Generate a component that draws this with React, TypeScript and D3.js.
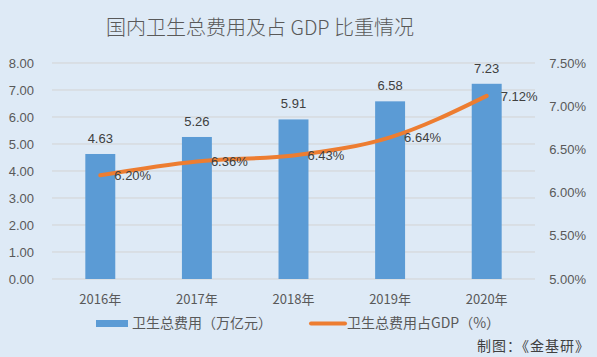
import React from "react";
import * as d3 from "d3";

const years = ["2016年", "2017年", "2018年", "2019年", "2020年"];
const spending = [4.63, 5.26, 5.91, 6.58, 7.23];
const gdpShare = [6.2, 6.36, 6.43, 6.64, 7.12];
const leftTicks = [0, 1, 2, 3, 4, 5, 6, 7, 8];
const rightTicks = [5.0, 5.5, 6.0, 6.5, 7.0, 7.5];

const W = 597, H = 357;
const M = { left: 52, right: 535, top: 63, bottom: 279 };
const NUM = "'Liberation Sans', Arial, sans-serif";
const CJK = "'Noto Sans CJK SC', sans-serif";

export default function App() {
  const x = d3.scaleBand().domain(years).range([M.left, M.right]).paddingInner(0.69).paddingOuter(0.345);
  const yL = d3.scaleLinear().domain([0, 8]).range([M.bottom, M.top]);
  const yR = d3.scaleLinear().domain([5, 7.5]).range([M.bottom, M.top]);
  const cx = (d: string) => (x(d) as number) + x.bandwidth() / 2;
  const line = d3.line<number>().x((_, i) => cx(years[i])).y((d) => yR(d)).curve(d3.curveMonotoneX);

  return (
    <svg width={W} height={H} style={{ position: "absolute", left: 0, top: 0 }}>
      <rect x={0} y={0} width={W} height={H} fill="#DEEAF6" />
      <text x={260} y={35} textAnchor="middle" fontFamily={CJK} fontSize={20} fontWeight={300} fill="#595959">国内卫生总费用及占 GDP 比重情况</text>
      {leftTicks.map((t) => (
        <g key={t}>
          <line x1={M.left} x2={M.right} y1={yL(t)} y2={yL(t)} stroke="#D3D3D3" strokeWidth={1} />
          <text x={34} y={yL(t) + 4.5} textAnchor="end" fontFamily={NUM} fontSize={13} fill="#595959">{t.toFixed(2)}</text>
        </g>
      ))}
      {rightTicks.map((t) => (
        <text key={t} x={586} y={yR(t) + 4.5} textAnchor="end" fontFamily={NUM} fontSize={13} fill="#595959">{t.toFixed(2)}%</text>
      ))}
      {spending.map((v, i) => (
        <g key={i}>
          <rect x={x(years[i])} y={yL(v)} width={x.bandwidth()} height={yL(0) - yL(v)} fill="#5B9BD5" />
          <text x={cx(years[i])} y={yL(v) - 11} textAnchor="middle" fontFamily={NUM} fontSize={13} fill="#404040">{v.toFixed(2)}</text>
        </g>
      ))}
      <path d={line(gdpShare) || ""} fill="none" stroke="#ED7D31" strokeWidth={4} strokeLinecap="round" />
      {gdpShare.map((v, i) => (
        <text key={i} x={cx(years[i]) + 14} y={yR(v) + 5} fontFamily={NUM} fontSize={13} fill="#404040">{v.toFixed(2)}%</text>
      ))}
      {years.map((y) => (
        <text key={y} x={cx(y)} y={304} textAnchor="middle" fontFamily={CJK} fontSize={13} fill="#595959">{y}</text>
      ))}
      <rect x={96} y={320} width={32} height={7} fill="#5B9BD5" />
      <text x={132} y={328} fontFamily={CJK} fontSize={14} fill="#595959">卫生总费用（万亿元）</text>
      <line x1={311} x2={345} y1={323.5} y2={323.5} stroke="#ED7D31" strokeWidth={4} strokeLinecap="round" />
      <text x={347} y={328} fontFamily={CJK} fontSize={14} fill="#595959">卫生总费用占GDP（%）</text>
      <text x={590} y={351} textAnchor="end" fontFamily={CJK} fontSize={14} letterSpacing={1} fill="#404040">制图：《金基研》</text>
    </svg>
  );
}
